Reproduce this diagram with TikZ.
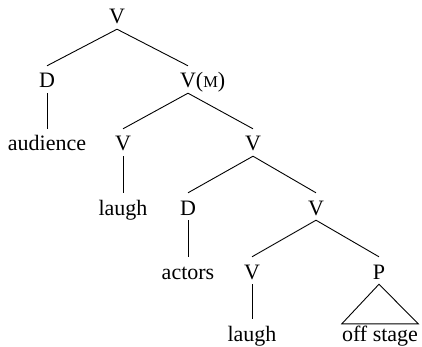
\documentclass[tikz,border=0pt]{standalone}
\usepackage{fontspec}
\setmainfont{Liberation Serif}
\begin{document}
\begin{tikzpicture}[x=1pt,y=-1pt,
  lab/.style={anchor=base,text height=17pt,text depth=0pt,inner ysep=5pt,inner xsep=0pt,
    font=\fontsize{22}{26}\selectfont},
  edge/.style={line width=0.9pt,black}]
\useasboundingbox (0,0) rectangle (422,347);
% row baselines: 24, 88, 151, 215, 279, 341
\node[lab] (v0) at (117,24) {V};
\node[lab] (d1) at (47,88) {D};
\node[lab] (vm) at (188,88) {V\rlap{({\fontsize{16.5}{16}\selectfont M})}};
\node[lab] (aud) at (47,151) {audience};
\node[lab] (v2) at (123,151) {V};
\node[lab] (v3) at (253,151) {V};
\node[lab] (laugh1) at (123,215) {laugh};
\node[lab] (d2) at (188,215) {D};
\node[lab] (v4) at (316,215) {V};
\node[lab] (actors) at (188,279) {actors};
\node[lab] (v5) at (252,279) {V};
\node[lab] (p) at (379,279) {P};
\node[lab] (laugh2) at (252,341) {laugh};
\node[lab] (off) at (380,341) {off stage};
\draw[edge] (v0.south) -- (d1.north);
\draw[edge] (v0.south) -- (vm.north);
\draw[edge] (d1.south) -- (aud.north);
\draw[edge] (vm.south) -- (v2.north);
\draw[edge] (vm.south) -- (v3.north);
\draw[edge] (v2.south) -- (laugh1.north);
\draw[edge] (v3.south) -- (d2.north);
\draw[edge] (v3.south) -- (v4.north);
\draw[edge] (d2.south) -- (actors.north);
\draw[edge] (v4.south) -- (v5.north);
\draw[edge] (v4.south) -- (p.north);
\draw[edge] (v5.south) -- (laugh2.north);
\draw[edge,line join=miter] (p.south) -- ([yshift=-5pt]off.north east) -- ([yshift=-5pt]off.north west) -- cycle;
\end{tikzpicture}
\end{document}
